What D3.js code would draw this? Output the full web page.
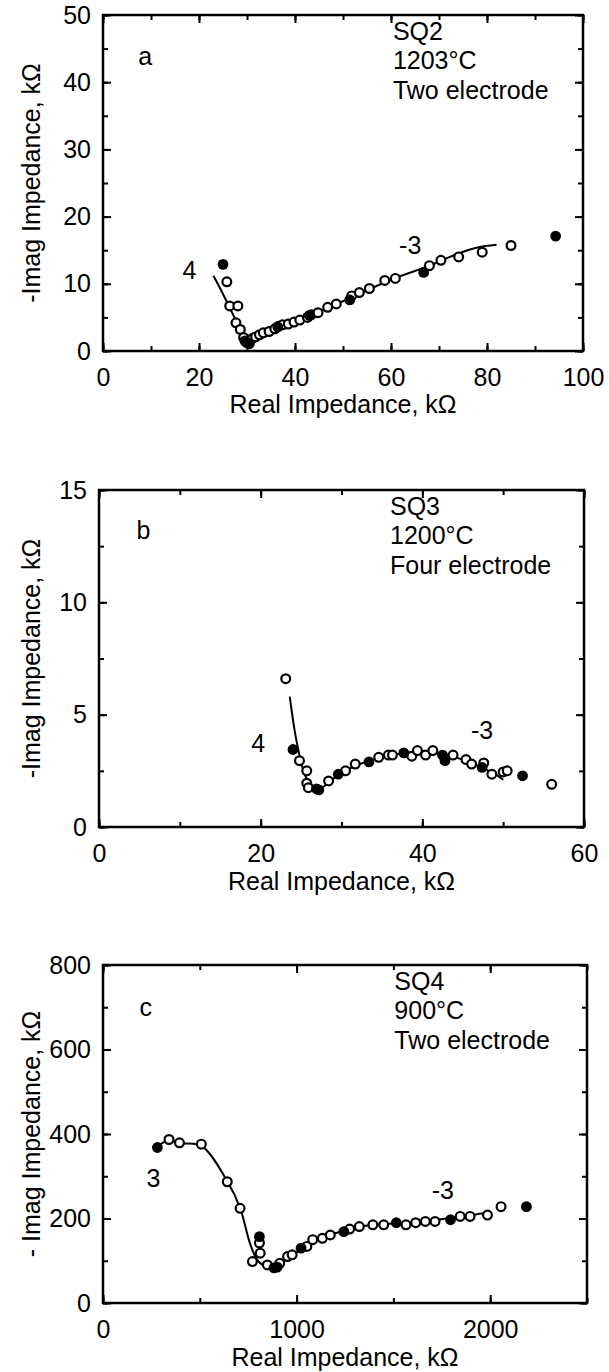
<!DOCTYPE html>
<html>
<head>
<meta charset="utf-8">
<script src="https://cdn.jsdelivr.net/npm/d3@7"></script>
<style>
body { margin: 0; background: #fff; }
text { font-family: "Liberation Sans", Arial, sans-serif; fill: #000; }
</style>
</head>
<body>
<script>
// ---- panel a : SQ2, 1203°C, two electrode ----
const aOpen = [[25.8,10.3],[26.4,6.7],[28.1,6.7],[27.7,4.2],[28.6,3.2],[29.3,2.0],[29.6,1.5],[30.1,1.2],[30.6,1.6],
  [31.2,1.9],[31.8,2.1],[32.6,2.4],[33.4,2.7],[34.6,2.9],[35.8,3.3],[36.6,3.7],[37.4,3.9],[38.6,4.0],[39.8,4.3],
  [41.0,4.6],[42.6,5.0],[43.4,5.4],[44.8,5.7],[46.8,6.5],[48.6,7.0],[51.8,8.2],[53.4,8.7],[55.5,9.3],[58.7,10.5],
  [60.9,10.8],[68.0,12.7],[70.4,13.5],[74.1,14.0],[79.0,14.7],[85.0,15.7]];
const aFilled = [[25.0,12.9],[29.8,1.3],[30.5,1.1],[36.4,3.6],[43.0,5.3],[51.4,7.6],[66.8,11.7],[94.3,17.1]];
const aFit = [[23.0,11.2],[24.5,9.2],[26.0,7.0],[27.5,4.8],[28.8,2.6],[29.8,1.2],[31.0,1.6],[34.0,2.8],[40.0,4.3],
  [50.0,7.4],[60.0,10.6],[68.0,12.7],[74.0,14.5],[78.0,15.4],[82.0,15.8]];
const aXTicks = [0, 20, 40, 60, 80, 100];
const aYTicks = [0, 10, 20, 30, 40, 50];

// ---- panel b : SQ3, 1200°C, four electrode ----
const bOpen = [[23.1,6.6],[24.8,2.95],[25.7,2.5],[25.7,1.95],[25.9,1.75],[28.4,2.05],[30.5,2.5],[31.7,2.8],[34.6,3.1],
  [35.8,3.2],[36.3,3.2],[38.7,3.15],[39.4,3.4],[40.4,3.2],[41.3,3.4],[43.8,3.2],[45.4,3.0],[46.1,2.8],[47.6,2.85],
  [48.6,2.35],[50.0,2.45],[50.5,2.5],[56.0,1.9]];
const bFilled = [[24.0,3.45],[26.9,1.7],[27.2,1.65],[29.6,2.35],[33.4,2.9],[37.7,3.3],[42.5,3.2],[42.8,2.95],[47.4,2.65],[52.4,2.28]];
const bFit = [[23.6,5.8],[24.2,4.3],[24.8,3.2],[25.5,2.3],[26.5,1.75],[27.5,1.75],[29.0,2.15],[31.0,2.6],[33.0,2.9],
  [35.0,3.1],[37.0,3.25],[40.0,3.35],[43.0,3.2],[45.0,3.0],[47.0,2.7],[49.0,2.35],[50.0,2.1]];
const bXTicks = [0, 20, 40, 60];
const bYTicks = [0, 5, 10, 15];

// ---- panel c : SQ4, 900°C, two electrode ----
const cOpen = [[341,387],[395,379],[508,376],[642,287],[708,224],[808,142],[812,118],[772,98],[849,90],[913,94],
  [953,110],[977,114],[1053,134],[1083,150],[1133,153],[1174,161],[1274,175],[1324,181],[1394,185],[1450,185],
  [1565,185],[1615,190],[1665,193],[1715,193],[1845,205],[1896,205],[1986,208],[2056,228]];
const cFilled = [[281,368],[808,157],[883,83],[900,85],[1023,130],[1244,169],[1515,190],[1795,197],[2187,228]];
const cFit = [[281,370],[341,385],[395,378],[508,372],[642,288],[708,225],[760,140],[800,100],[850,85],[900,90],
  [950,108],[1000,120],[1100,148],[1200,165],[1300,178],[1400,185],[1500,188],[1600,190],[1700,195],[1800,202],
  [1900,208],[1990,215]];
const cXTicks = [0, 1000, 2000];
const cYTicks = [0, 200, 400, 600, 800];

const xTitle = 'Real Impedance, kΩ';

const svg = d3.select('body').append('svg').attr('width', 609).attr('height', 1372);

const panels = [
  {box: [103, 15, 583, 351], xDom: [0, 100], yDom: [0, 50], xTicks: aXTicks, yTicks: aYTicks, xMinor: 10, yMinor: 5,
   open: aOpen, filled: aFilled, fit: aFit, yTitle: '-Imag Impedance, kΩ', titleGap: 62,
   letter: ['a', 8.8, 43.8], info: ['SQ2', '1203°C', 'Two electrode'], infoX: 60.4,
   lab1: ['4', 18.0, 12.0], lab2: ['-3', 64.0, 15.8]},
  {box: [99, 490, 584, 827], xDom: [0, 60], yDom: [0, 15], xTicks: bXTicks, yTicks: bYTicks, xMinor: 10, yMinor: 2.5,
   open: bOpen, filled: bFilled, fit: bFit, yTitle: '-Imag Impedance, kΩ', titleGap: 63,
   letter: ['b', 5.5, 13.2], info: ['SQ3', '1200°C', 'Four electrode'], infoX: 36,
   lab1: ['4', 19.7, 3.75], lab2: ['-3', 47.4, 4.3]},
  {box: [103, 965, 587, 1303], xDom: [0, 2500], yDom: [0, 800], xTicks: cXTicks, yTicks: cYTicks, xMinor: 500, yMinor: 100,
   open: cOpen, filled: cFilled, fit: cFit, yTitle: '- Imag Impedance, kΩ', titleGap: 63,
   letter: ['c', 221, 700], info: ['SQ4', '900°C', 'Two electrode'], infoX: 1505,
   lab1: ['3', 261, 295], lab2: ['-3', 1755, 268]}
];

const tickFont = 25, titleFont = 25, noteFont = 25;

panels.forEach(p => {
  const [x0, y0, x1, y1] = p.box;
  const x = d3.scaleLinear().domain(p.xDom).range([x0, x1]);
  const y = d3.scaleLinear().domain(p.yDom).range([y1, y0]);
  const g = svg.append('g');

  const xMinorTicks = d3.range(p.xDom[0], p.xDom[1] + 1e-9, p.xMinor);
  const yMinorTicks = d3.range(p.yDom[0], p.yDom[1] + 1e-9, p.yMinor);

  // ticks point inward on all four sides
  const addAxis = (axisFn, scale, vals, size, pad, tr) => {
    const ax = axisFn(scale).tickValues(vals).tickSize(-size).tickPadding(pad || 0)
      .tickFormat(pad ? d3.format('d') : '');
    const a = g.append('g').attr('transform', tr).call(ax);
    a.select('.domain').remove();
    a.selectAll('line').attr('stroke', '#000').attr('stroke-width', 2);
    a.selectAll('text').attr('font-size', tickFont).attr('font-family', null);
  };
  addAxis(d3.axisBottom, x, xMinorTicks, 5, 0, `translate(0,${y1})`);
  addAxis(d3.axisBottom, x, p.xTicks, 8, 17, `translate(0,${y1})`);
  addAxis(d3.axisTop, x, xMinorTicks, 5, 0, `translate(0,${y0})`);
  addAxis(d3.axisTop, x, p.xTicks, 8, 0, `translate(0,${y0})`);
  addAxis(d3.axisLeft, y, yMinorTicks, 5, 0, `translate(${x0},0)`);
  addAxis(d3.axisLeft, y, p.yTicks, 8, 12, `translate(${x0},0)`);
  addAxis(d3.axisRight, y, yMinorTicks, 5, 0, `translate(${x1},0)`);
  addAxis(d3.axisRight, y, p.yTicks, 8, 0, `translate(${x1},0)`);
  g.selectAll('.tick text').filter(function() { return this.textContent === ''; }).remove();

  // frame
  g.append('rect').attr('x', x0).attr('y', y0).attr('width', x1 - x0).attr('height', y1 - y0)
    .attr('fill', 'none').attr('stroke', '#000').attr('stroke-width', 2.5);

  // axis titles
  g.append('text').attr('x', (x0 + x1) / 2).attr('y', y1 + p.titleGap).attr('text-anchor', 'middle')
    .attr('font-size', titleFont).text(xTitle);
  g.append('text').attr('transform', `translate(31,${(y0 + y1) / 2}) rotate(-90)`).attr('text-anchor', 'middle')
    .attr('dy', '0.35em').attr('font-size', titleFont).text(p.yTitle);

  // fitted curve
  g.append('path').datum(p.fit)
    .attr('d', d3.line().x(d => x(d[0])).y(d => y(d[1])).curve(d3.curveCatmullRom.alpha(0.5)))
    .attr('fill', 'none').attr('stroke', '#000').attr('stroke-width', 2);

  // data points
  g.selectAll('circle.open').data(p.open).join('circle').attr('class', 'open')
    .attr('cx', d => x(d[0])).attr('cy', d => y(d[1])).attr('r', 4.4)
    .attr('fill', '#fff').attr('stroke', '#000').attr('stroke-width', 2.2);
  g.selectAll('circle.filled').data(p.filled).join('circle').attr('class', 'filled')
    .attr('cx', d => x(d[0])).attr('cy', d => y(d[1])).attr('r', 5.4).attr('fill', '#000');

  // annotations
  const note = (t, xv, yv) => g.append('text').attr('x', x(xv)).attr('y', y(yv)).attr('dy', '0.35em')
    .attr('text-anchor', 'middle').attr('font-size', noteFont).text(t);
  note(p.letter[0], p.letter[1], p.letter[2]);
  note(p.lab1[0], p.lab1[1], p.lab1[2]);
  note(p.lab2[0], p.lab2[1], p.lab2[2]);
  p.info.forEach((t, i) => {
    g.append('text').attr('x', x(p.infoX)).attr('y', y0 + 16 + i * 29.5).attr('dy', '0.35em')
      .attr('font-size', noteFont).text(t);
  });
});
</script>
</body>
</html>
